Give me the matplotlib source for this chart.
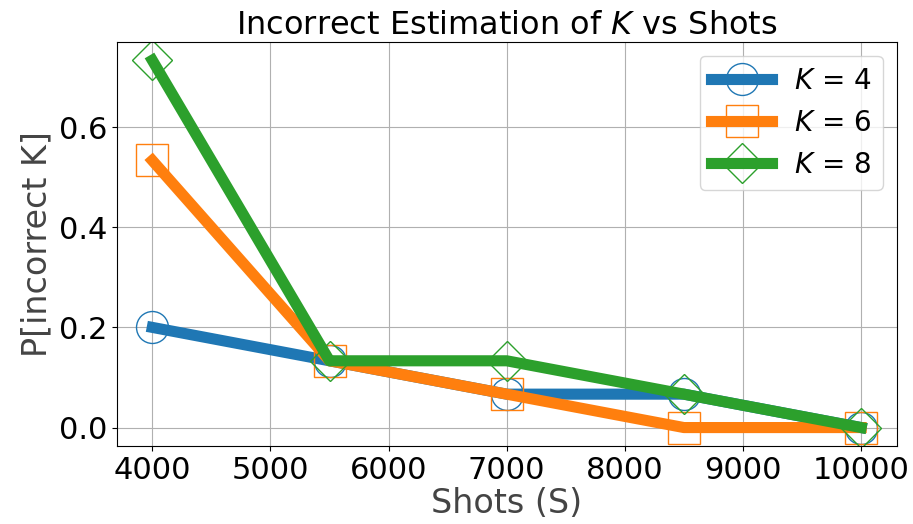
import matplotlib
matplotlib.use("Agg")
import matplotlib.pyplot as plt

shots = [4000, 5500, 7000, 8500, 10000]
k4 = [0.2, 0.1333, 0.0667, 0.0667, 0.0]
k6 = [0.5333, 0.1333, 0.0667, 0.0, 0.0]
k8 = [0.7333, 0.1333, 0.1333, 0.0667, 0.0]
series = [("$K$ = 4", k4, "o"), ("$K$ = 6", k6, "s"), ("$K$ = 8", k8, "D")]
colors = ["#1f77b4", "#ff7f0e", "#2ca02c"]

fig, ax = plt.subplots(figsize=(9.13, 5.24), dpi=100)
for (lab, vals, m), c in zip(series, colors):
    ax.plot(shots, vals, color=c, lw=8, marker=m, ms=23 if m != "D" else 20,
            mfc="none", mec=c, mew=1, label=lab)
ax.grid(True, color="#b0b0b0", lw=0.8)
ax.set_title("Incorrect Estimation of $K$ vs Shots", fontsize=23)
ax.set_xlabel("Shots (S)", fontsize=24, color="#444444", labelpad=2)
ax.set_ylabel("P[incorrect K]", fontsize=24, color="#444444")
ax.tick_params(labelsize=22)
ax.legend(fontsize=20, loc="upper right", handlelength=2.2)
fig.subplots_adjust(left=0.128, right=0.982, top=0.92, bottom=0.149)
fig.savefig("out.png", dpi=100)
